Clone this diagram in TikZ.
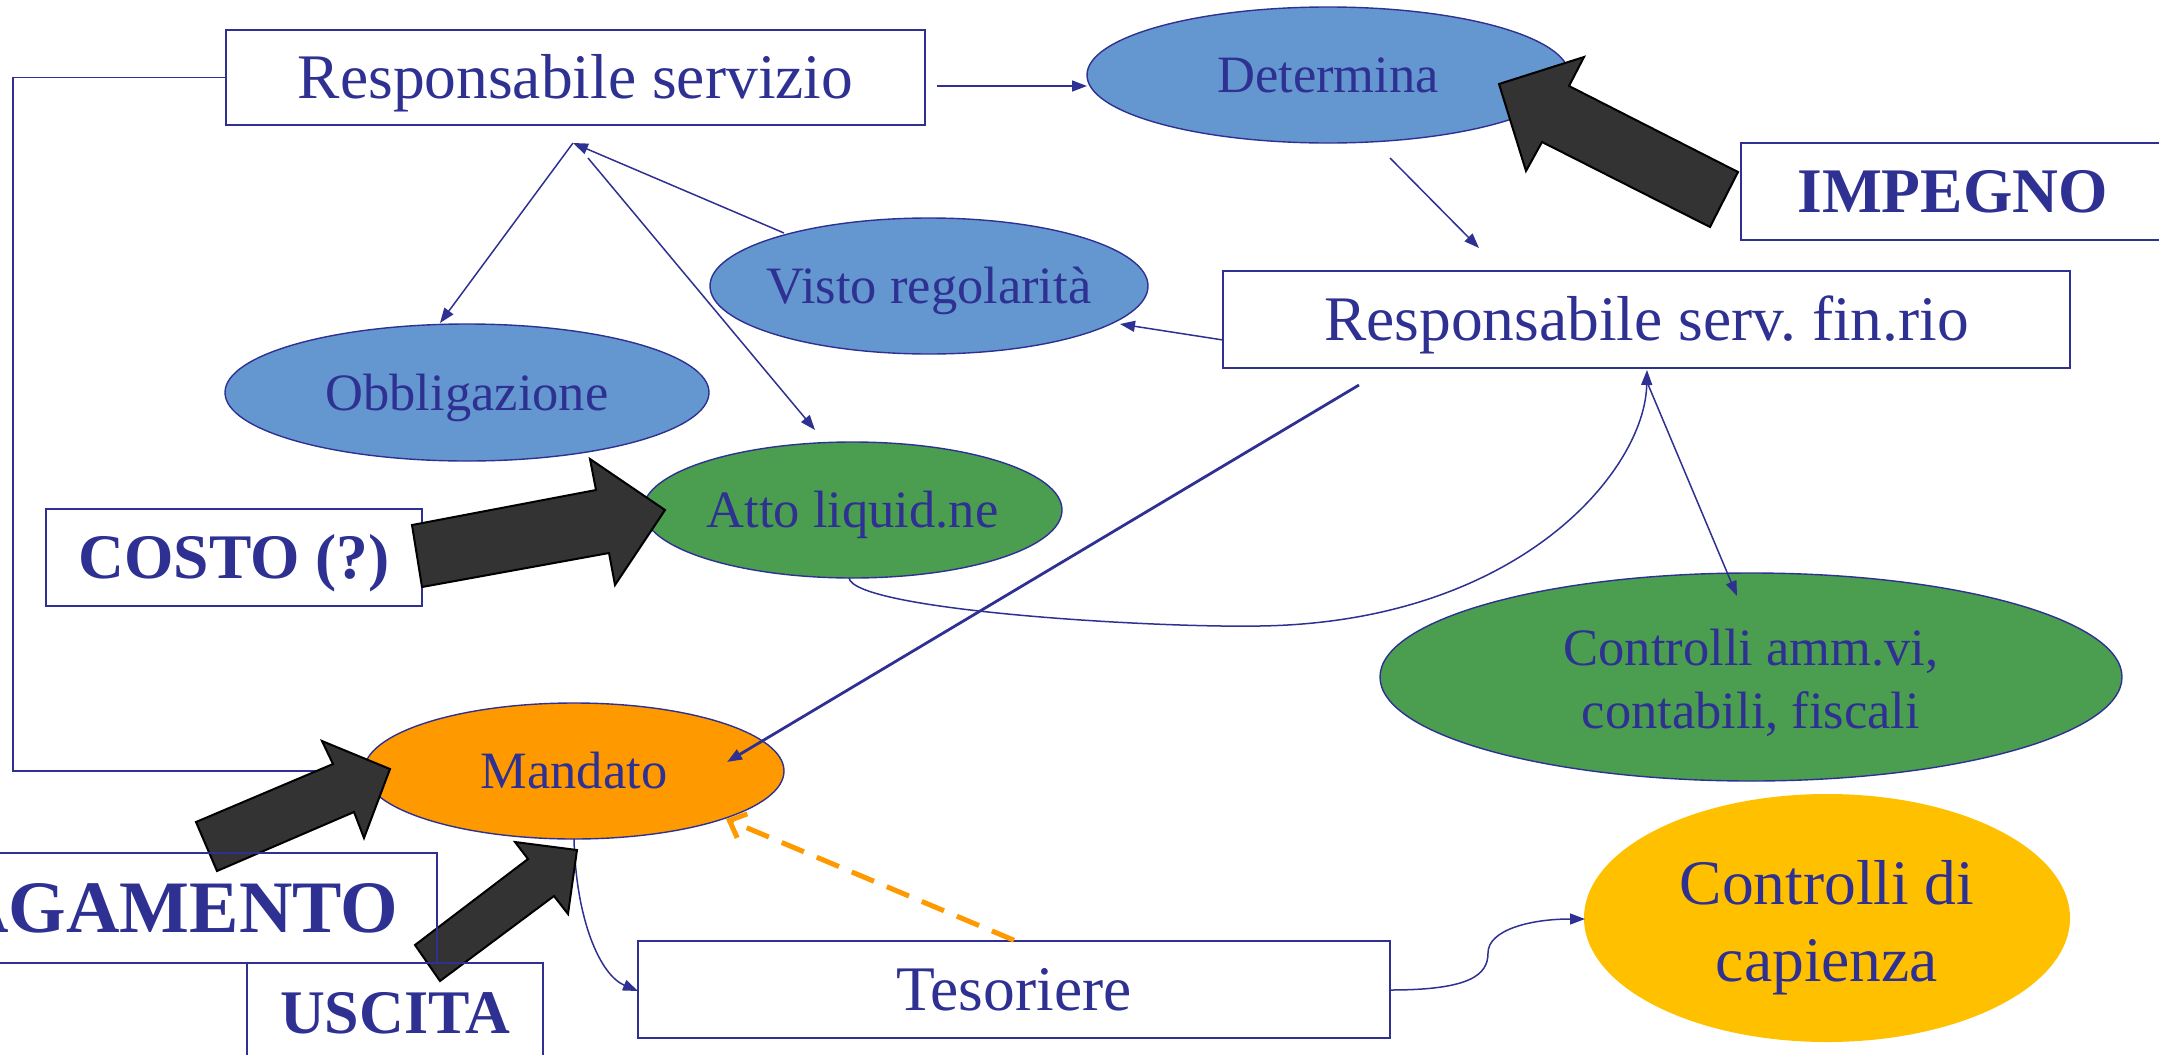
\documentclass[tikz,border=0pt]{standalone}
\usepackage{fontspec}
\setmainfont{Liberation Serif}
\frenchspacing
\usetikzlibrary{shapes.geometric,arrows.meta,calc}
\definecolor{navy}{RGB}{46,49,146}
\definecolor{bluefill}{RGB}{100,150,208}
\definecolor{greenfill}{RGB}{75,157,80}
\definecolor{orangefill}{RGB}{255,153,0}
\definecolor{yellowfill}{RGB}{255,192,0}
\definecolor{darkarrow}{RGB}{51,51,51}
\begin{document}
\begin{tikzpicture}[x=0.5pt,y=-0.5pt,
  boxnode/.style={rectangle, draw=navy, line width=0.75pt, fill=white, inner sep=0pt, text=navy},
  openbox/.style={rectangle, draw=navy, line width=0.75pt, inner sep=0pt, text=navy},
  ellnode/.style={ellipse, draw=navy, line width=0.7pt, inner sep=0pt, text=navy},
  regfont/.style={font=\fontsize{31.75pt}{38.5pt}\selectfont},
  regtext/.style={regfont, text height=28.29pt, text depth=6.86pt},
  boldtext/.style={font=\fontsize{31.75pt}{38pt}\selectfont\bfseries, text height=28.29pt, text depth=6.86pt},
  ellfont/.style={font=\fontsize{26.25pt}{31.5pt}\selectfont},
  elltext/.style={ellfont, text height=23.39pt, text depth=5.67pt},
  conn/.style={draw=navy, line width=0.75pt, -{Triangle[length=7.5pt,width=5.5pt]}},
  fatarrow/.style={fill=darkarrow, draw=black, line width=1pt, line join=miter},
]
\useasboundingbox (0,0) rectangle (2159,1055);
\clip (0,0) rectangle (2159,1055);

% boxes
\node[boxnode, regtext, minimum width=349.5pt, minimum height=47.5pt] (rs) at (575.5,77.5) {Responsabile servizio};
\node[boxnode, regtext, minimum width=423.5pt, minimum height=48.5pt] (fin) at (1646.5,319.5) {Responsabile serv. fin.rio};
\node[boxnode, boldtext, minimum width=211.5pt, minimum height=48.5pt] (imp) at (1952.5,191.5) {IMPEGNO};
\node[boxnode, boldtext, minimum width=188pt, minimum height=48.5pt] (costo) at (234,557.5) {COSTO (?)};
\node[boxnode, regtext, minimum width=376pt, minimum height=48.5pt] (tes) at (1014,989.5) {Tesoriere};

% ellipses
\node[ellnode, elltext, fill=bluefill, minimum width=241pt, minimum height=68pt] (det) at (1328,75) {\makebox[0pt]{Determina}};
\node[ellnode, elltext, fill=bluefill, minimum width=219pt, minimum height=68pt] (vis) at (929,286) {\makebox[0pt]{Visto regolarità}};
\node[ellnode, elltext, fill=bluefill, minimum width=242pt, minimum height=68.5pt] (obb) at (467,392.5) {\makebox[0pt]{Obbligazione}};
\node[ellnode, elltext, fill=greenfill, minimum width=209.5pt, minimum height=68pt] (atto) at (852.5,510) {\makebox[0pt]{Atto liquid.ne}};
\node[ellnode, elltext, fill=orangefill, minimum width=210pt, minimum height=68pt] (man) at (574,771) {\makebox[0pt]{Mandato}};
\node[ellnode, fill=greenfill, minimum width=371pt, minimum height=104pt,
  label={[text=navy, ellfont, inner sep=0pt, yshift=-3.5pt]center:{\begin{tabular}{@{}c@{}}Controlli amm.vi,\\contabili, fiscali\end{tabular}}}] (ctr) at (1751,677) {};
\node[ellipse, inner sep=0pt, fill=yellowfill, minimum width=243pt, minimum height=124pt,
  label={[text=navy, regfont, inner sep=0pt, yshift=-5pt]center:{\begin{tabular}{@{}c@{}}Controlli di\\capienza\end{tabular}}}] (cap) at (1827,918) {};

% connector end points
\coordinate (rsE) at (937,86);
\coordinate (detW) at (1087,86);
\coordinate (detS) at (1390,158);
\coordinate (finN) at (1479,248);
\coordinate (finW) at (1223,340);
\coordinate (visE) at (1120,324);
\coordinate (apex) at (573,143);
\coordinate (apexB) at (588,158);
\coordinate (obbN) at (440,323);
\coordinate (visW) at (784,233);
\coordinate (attoN) at (815,430);
\coordinate (finSW) at (1359,385);
\coordinate (manE) at (727,762);
\coordinate (attoS) at (849,578);
\coordinate (finS) at (1647,370);
\coordinate (finS2) at (1647,382);
\coordinate (ctrN) at (1737,596);
\coordinate (manS) at (574,839);
\coordinate (tesW) at (638,991);
\coordinate (manSE) at (726,819);
\coordinate (tesE) at (1390,990);
\coordinate (capW) at (1585,919);

% loop line
\draw[navy, line width=0.75pt] (rs.west) -- (13,77.5) |- (man.west);

% connectors
\draw[conn] (rsE) -- (detW);
\draw[conn] (detS) -- (finN);
\draw[conn] (finW) -- (visE);
\draw[conn] (apex) -- (obbN);
\draw[conn] (visW) -- (apex);
\draw[conn] (apexB) -- (attoN);
\draw[conn, line width=1.4pt] (finSW) -- (manE);
\draw[conn] (attoS) .. controls (855,610) and (1150,628) .. (1260,626) .. controls (1520,622) and (1645,470) .. (finS);
\draw[conn] (finS2) -- (ctrN);
\draw[conn] (manS) .. controls (576,920) and (600,975) .. (tesW);
\draw[draw=orangefill, line width=2.5pt, dash pattern=on 12pt off 7pt, -{Straight Barb[length=7pt,width=13pt]}] (tes.north) -- (manSE);
\draw[conn] (tesE) .. controls (1470,990) and (1488,975) .. (1488,953) .. controls (1488,930) and (1530,919) .. (capW);

% fat arrows
\draw[fatarrow] (1738,172) -- (1569,86) -- (1584,57) -- (1499,84) -- (1526,171) -- (1542,142) -- (1710,227) -- cycle;
\draw[fatarrow] (412,525) -- (596,490) -- (590,459) -- (665,510) -- (615,585) -- (609,553) -- (422,587) -- cycle;
\draw[fatarrow] (196,822) -- (333,764) -- (322,741) -- (390,769) -- (364,838) -- (354,812) -- (217,871) -- cycle;
\draw[fatarrow] (415,945) -- (528,859) -- (515,842) -- (577,850) -- (568,914) -- (554,896) -- (440,981) -- cycle;

% open boxes on top
\node[openbox, font=\fontsize{37pt}{44pt}\selectfont\bfseries, text height=32.97pt, text depth=7.99pt, minimum width=280pt, minimum height=55pt] (pag) at (157,908) {PAGAMENTO};
\node[openbox, font=\fontsize{31pt}{37pt}\selectfont\bfseries, text height=27.62pt, text depth=6.70pt, minimum width=148pt, minimum height=50pt] (usc) at (395,1013) {USCITA};
\end{tikzpicture}
\end{document}
